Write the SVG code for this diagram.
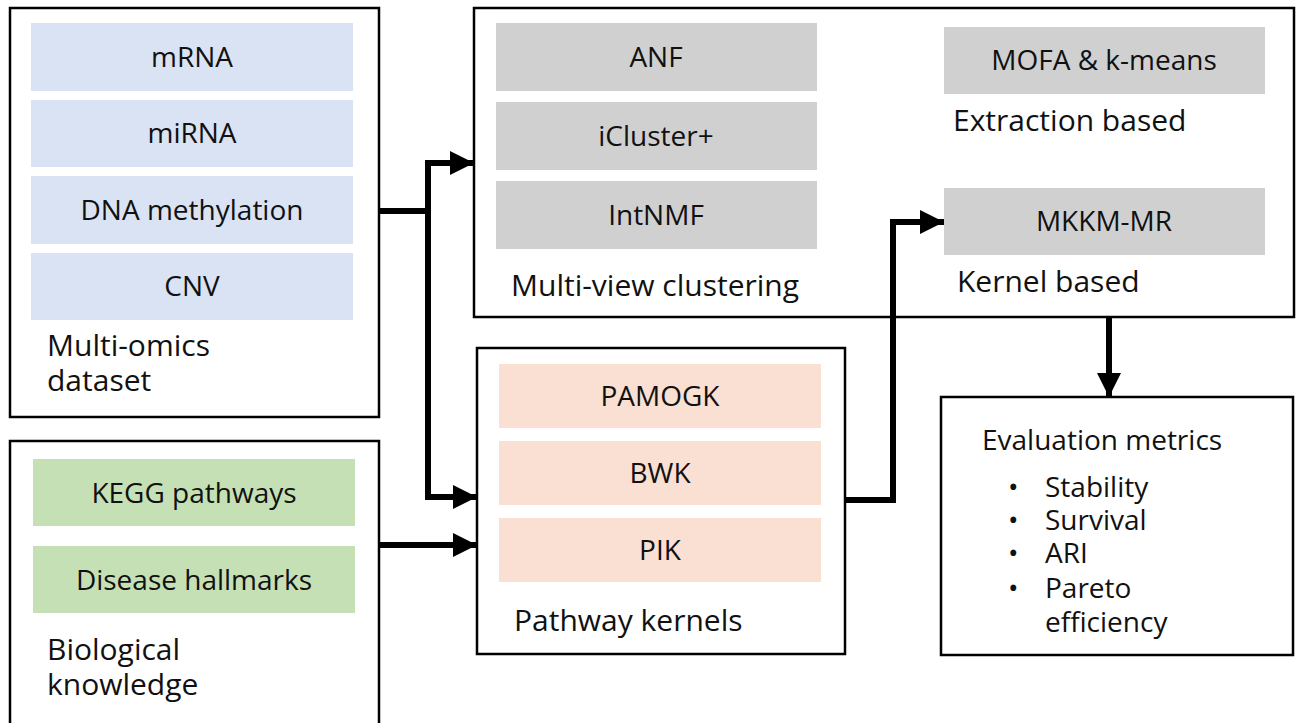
<svg xmlns="http://www.w3.org/2000/svg" width="1298" height="723" viewBox="0 0 1298 723">
<style>
.frame{fill:#fff;stroke:#000;stroke-width:2.5}
.blue{fill:#dae3f3}
.green{fill:#c5e0b4}
.gray{fill:#d0d0d0}
.pink{fill:#fadfd3}
text{font-family:"Open Sans","Noto Sans","DejaVu Sans",sans-serif;font-size:28px;fill:#111}
.lbl{font-size:30px}
.c{text-anchor:middle}
.conn{fill:none;stroke:#000;stroke-width:6}
</style>
<defs>
<marker id="ah" viewBox="0 0 10 10" refX="10" refY="5" markerWidth="4" markerHeight="4" orient="auto" markerUnits="strokeWidth">
<path d="M0,0 L10,5 L0,10 Z" fill="#000"/>
</marker>
</defs>
<g id="multiomics">
<rect class="frame" x="10" y="8" width="369" height="409"/>
<rect class="blue" x="31" y="23" width="322" height="68"/>
<text class="c" x="192" y="67">mRNA</text>
<rect class="blue" x="31" y="100" width="322" height="67"/>
<text class="c" x="192" y="143">miRNA</text>
<rect class="blue" x="31" y="176" width="322" height="68"/>
<text class="c" x="192" y="220">DNA methylation</text>
<rect class="blue" x="31" y="253" width="322" height="67"/>
<text class="c" x="192" y="296">CNV</text>
<text class="lbl" x="47" y="356">Multi-omics</text>
<text class="lbl" x="47" y="391">dataset</text>
</g>
<g id="biological">
<rect class="frame" x="10" y="441" width="369" height="290"/>
<rect class="green" x="33" y="459" width="322" height="67"/>
<text class="c" x="194" y="503">KEGG pathways</text>
<rect class="green" x="33" y="546" width="322" height="67"/>
<text class="c" x="194" y="590">Disease hallmarks</text>
<text class="lbl" x="47" y="660">Biological</text>
<text class="lbl" x="47" y="695">knowledge</text>
</g>
<g id="multiview">
<rect class="frame" x="474" y="8" width="820" height="309"/>
<rect class="gray" x="496" y="23" width="321" height="68"/>
<text class="c" x="656" y="67">ANF</text>
<rect class="gray" x="496" y="102" width="321" height="68"/>
<text class="c" x="656" y="146">iCluster+</text>
<rect class="gray" x="496" y="181" width="321" height="68"/>
<text class="c" x="656" y="225">IntNMF</text>
<text class="lbl" x="511" y="296">Multi-view clustering</text>
<rect class="gray" x="944" y="27" width="321" height="67"/>
<text class="c" x="1104" y="70">MOFA &amp; k-means</text>
<text class="lbl" x="953" y="131">Extraction based</text>
<rect class="gray" x="944" y="188" width="321" height="67"/>
<text class="c" x="1104" y="231">MKKM-MR</text>
<text class="lbl" x="957" y="292">Kernel based</text>
</g>
<g id="pathway">
<rect class="frame" x="477" y="348" width="368" height="306"/>
<rect class="pink" x="499" y="364" width="322" height="64"/>
<text class="c" x="660" y="406">PAMOGK</text>
<rect class="pink" x="499" y="441" width="322" height="64"/>
<text class="c" x="660" y="483">BWK</text>
<rect class="pink" x="499" y="518" width="322" height="64"/>
<text class="c" x="660" y="560">PIK</text>
<text class="lbl" x="514" y="631">Pathway kernels</text>
</g>
<g id="evaluation">
<rect class="frame" x="941" y="397" width="352" height="258"/>
<text x="982" y="450">Evaluation metrics</text>
<text x="1008" y="497">•</text>
<text x="1045" y="497">Stability</text>
<text x="1008" y="530">•</text>
<text x="1045" y="530">Survival</text>
<text x="1008" y="563">•</text>
<text x="1045" y="563">ARI</text>
<text x="1008" y="598">•</text>
<text x="1045" y="598">Pareto</text>
<text x="1045" y="632">efficiency</text>
</g>
<g id="connectors">
<path class="conn" d="M379,211 H428"/>
<path class="conn" d="M428,211 V163 H474" marker-end="url(#ah)"/>
<path class="conn" d="M428,208 V497 H477" marker-end="url(#ah)"/>
<path class="conn" d="M379,545 H477" marker-end="url(#ah)"/>
<path class="conn" d="M845,500 H893 V222 H944" marker-end="url(#ah)"/>
<path class="conn" d="M1109,316 V397" marker-end="url(#ah)"/>
</g>
</svg>
